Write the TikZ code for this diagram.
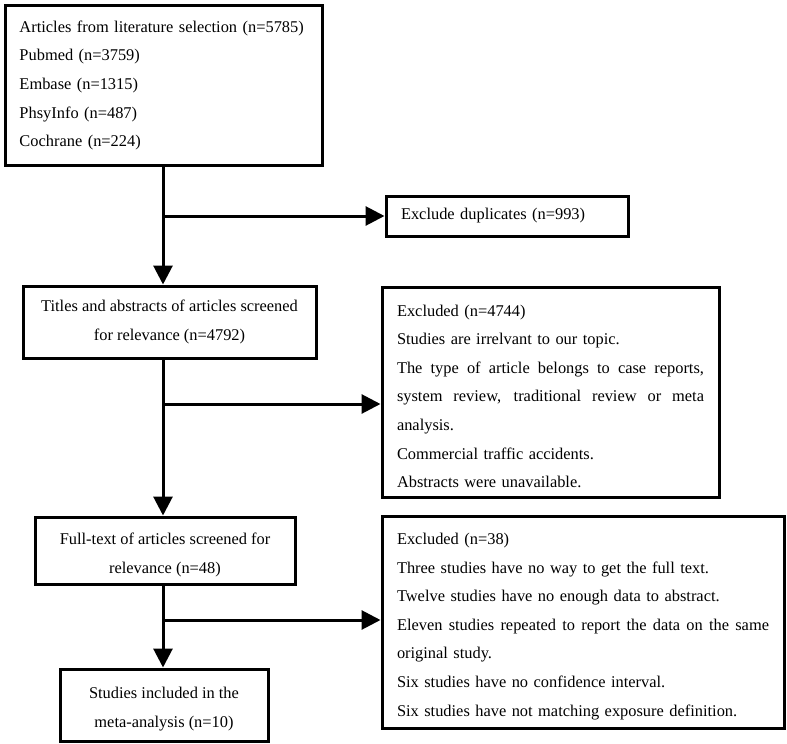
\documentclass[tikz,border=0pt]{standalone}
\usepackage{fontspec}
\setmainfont{Liberation Serif}
\usepackage{tikz}
\usetikzlibrary{calc}
\usetikzlibrary{arrows.meta}
\newcommand{\spreadline}[2]{\leavevmode\hbox to #1{\spaceskip=0.25em plus 1fil\relax #2}}

\begin{document}
\begin{tikzpicture}[x=1pt,y=-1pt,
					box/.style={draw, line width=3pt, anchor=north west, inner ysep=0pt, font={\fontsize{16.4}{28.6}\selectfont}},
					listbox/.style={box, align=left, inner xsep=15pt},
					flow/.style={line width=3pt, -{Triangle[length=19pt,width=19pt]}}]
					\useasboundingbox (0,0) rectangle (787,744);

					\node [listbox, text width=289pt, inner xsep=14pt, minimum height=160pt] (sources) at (4,4) {Articles from literature selection (n=5785)\\ Pubmed (n=3759)\\ Embase (n=1315)\\ PhsyInfo (n=487)\\ Cochrane (n=224)};
					\node [listbox, anchor=west, text width=212pt, minimum height=40pt] (dup) at (384.5,216) {Exclude duplicates (n=993)};
					\node [box, align=center, minimum width=293pt, minimum height=72pt] (screen) at (21.5,284.5) {Titles and abstracts of articles screened\\ for relevance (n=4792)};
					\node [listbox, text width=307pt, minimum height=210pt] (excl1) at (380.5,285.5) {\strut Excluded (n=4744)\\ Studies are irrelvant to our topic.\\ \spreadline{307pt}{The type of article belongs to case reports,}\\ \spreadline{307pt}{system review, traditional review or meta}\\ analysis.\\ Commercial traffic accidents.\\ Abstracts were unavailable.};
					\node [box, align=center, minimum width=260pt, minimum height=67pt] (fulltext) at (33.5,515.5) {\strut Full-text of articles screened for\\ relevance (n=48)};
					\node [listbox, text width=372pt, minimum height=212pt] (excl2) at (380.5,514.5) {\strut Excluded (n=38)\\ Three studies have no way to get the full text.\\ Twelve studies have no enough data to abstract.\\ \spreadline{372pt}{Eleven studies repeated to report the data on the same}\\ original study.\\ Six studies have no confidence interval.\\ Six studies have not matching exposure definition.};
					\node [box, align=center, minimum width=208pt, minimum height=72pt] (included) at (58.5,667.5) {\strut Studies included in the\\ meta-analysis (n=10)};

					\coordinate (trunk) at (163,0);
					\coordinate (fork1) at (163,216);
					\coordinate (fork2) at (163,404);
					\coordinate (fork3) at (163,620);

					\draw [flow] (sources.south -| trunk) to (screen.north -| trunk);
					\draw [flow] (screen.south -| trunk) to (fulltext.north -| trunk);
					\draw [flow] (fulltext.south -| trunk) to (included.north -| trunk);
					\draw [flow] (fork1) to (dup.west);
					\draw [flow] (fork2) to (fork2 -| excl1.west);
					\draw [flow] (fork3) to (fork3 -| excl2.west);
				\end{tikzpicture}
\end{document}
